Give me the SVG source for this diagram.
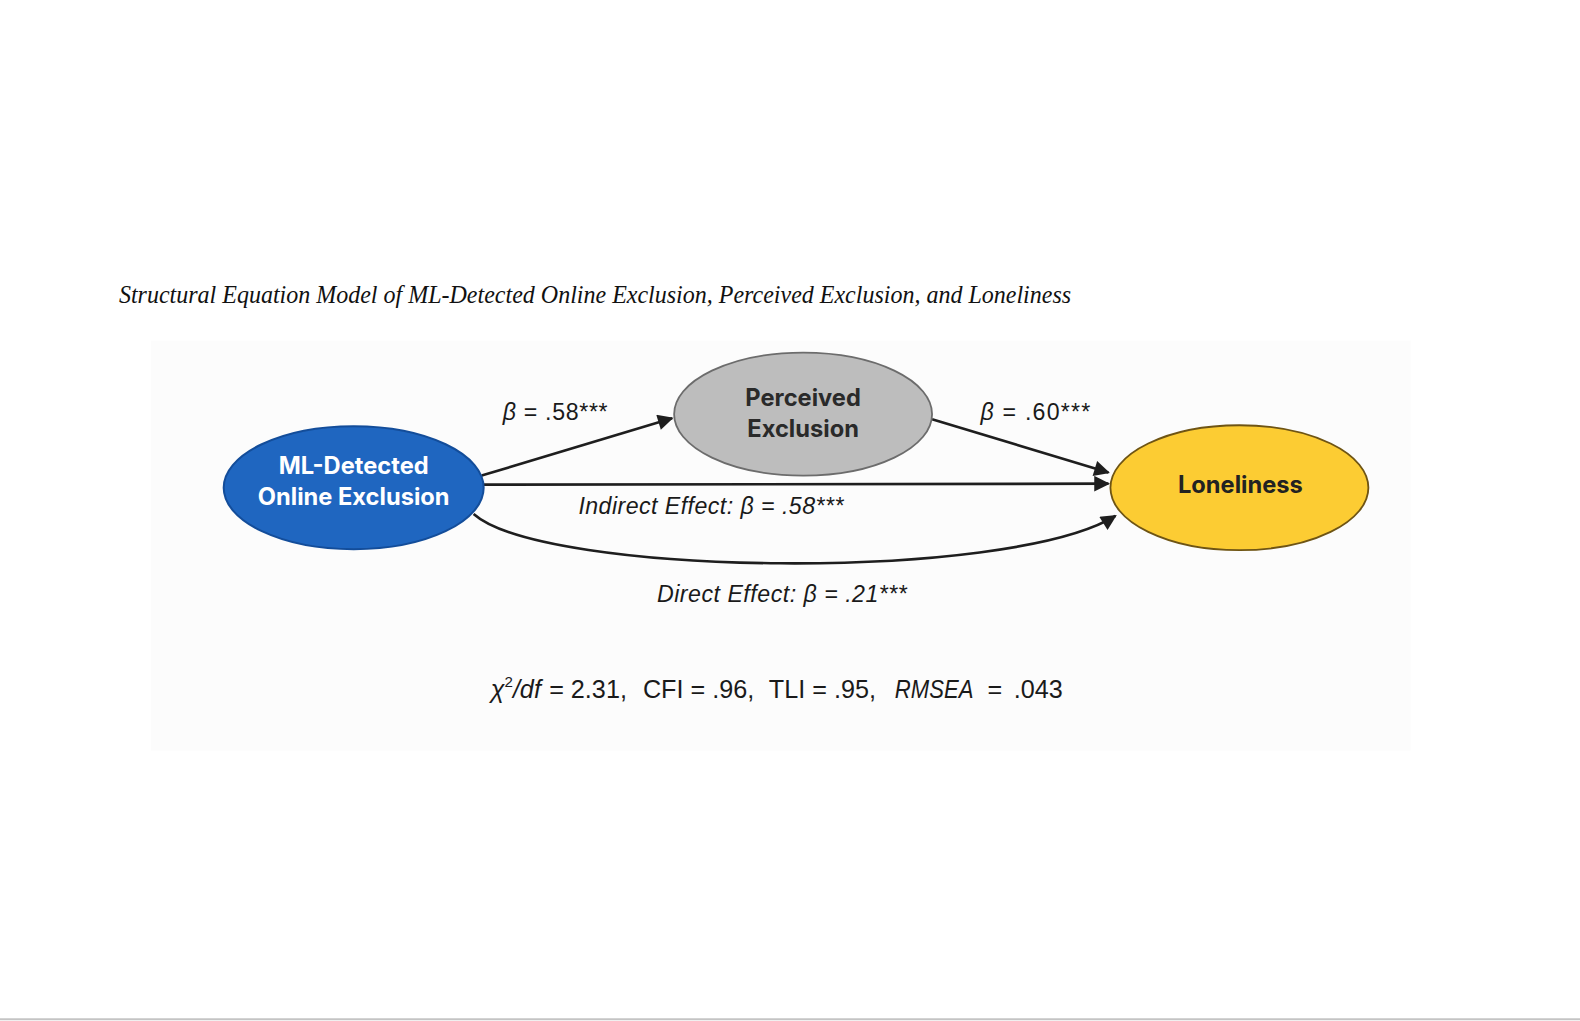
<svg xmlns="http://www.w3.org/2000/svg" width="1580" height="1021" viewBox="0 0 1580 1021">
<defs>
<style>
.lbl{font-family:"Liberation Sans",Arial,sans-serif;font-size:23px;fill:#1a1a1a}
.fit{font-family:"Liberation Sans",Arial,sans-serif;font-size:25px;fill:#1a1a1a}
.it{font-style:italic}
.node{font-family:Inter,"Open Sans",sans-serif;font-size:23.5px;font-weight:700;text-anchor:middle}
.conn{fill:none;stroke:#1e1e1e;stroke-width:2.6}
</style>
<marker id="ah" viewBox="0 0 10 10" refX="9" refY="5" markerWidth="7.2" markerHeight="6" markerUnits="strokeWidth" orient="auto">
<path d="M0,0 L10,5 L0,10 z" fill="#1e1e1e"/>
</marker>
</defs>
<rect x="0" y="0" width="1580" height="1021" fill="#ffffff"/>
<g transform="scale(1.00765)">
<rect x="150" y="338" width="1250" height="407" fill="#fcfcfc"/>
<line x1="0" y1="1011.5" x2="1580" y2="1011.5" stroke="#c4c4c4" stroke-width="2"/>
<text x="118" y="301" font-family="'Liberation Serif','Times New Roman',serif" font-style="italic" font-size="25" fill="#111" textLength="945" lengthAdjust="spacingAndGlyphs">Structural Equation Model of ML-Detected Online Exclusion, Perceived Exclusion, and Loneliness</text>
<g id="connectors">
<line class="conn" x1="478" y1="472" x2="667" y2="415" marker-end="url(#ah)"/>
<line class="conn" x1="925" y1="416" x2="1100" y2="469" marker-end="url(#ah)"/>
<line class="conn" x1="480" y1="481" x2="1100" y2="480" marker-end="url(#ah)"/>
<path class="conn" d="M470,510 C540,572 1000,578 1107,512" marker-end="url(#ah)"/>
</g>
<g id="node-ml">
<ellipse cx="351" cy="484" rx="129" ry="61" fill="#1f66c0" stroke="#134d9a" stroke-width="2"/>
<text class="node" x="351" y="470" fill="#ffffff">ML-Detected</text>
<text class="node" x="351" y="501" fill="#ffffff">Online Exclusion</text>
</g>
<g id="node-perceived">
<ellipse cx="797" cy="411" rx="128" ry="61" fill="#bdbdbd" stroke="#6c6c6c" stroke-width="1.8"/>
<text class="node" x="797" y="403" fill="#2a2a2a">Perceived</text>
<text class="node" x="797" y="434" fill="#2a2a2a">Exclusion</text>
</g>
<g id="node-loneliness">
<ellipse cx="1230" cy="484" rx="128" ry="62" fill="#fccc33" stroke="#6e5414" stroke-width="1.8"/>
<text class="node" x="1231" y="489" fill="#222222">Loneliness</text>
</g>
<g id="labels">
<text class="lbl" x="499" y="417" textLength="104"><tspan class="it">β</tspan> = .58***</text>
<text class="lbl" x="973" y="417" textLength="109"><tspan class="it">β</tspan> = .60***</text>
<text class="lbl it" x="574" y="510" textLength="263">Indirect Effect: β = .58***</text>
<text class="lbl it" x="652" y="597" textLength="248">Direct Effect: β = .21***</text>
<text class="fit" y="693"><tspan class="it" x="487">χ</tspan><tspan font-size="15" dy="-11">2</tspan><tspan class="it" dy="11">/df</tspan><tspan x="545">= 2.31,</tspan><tspan x="638">CFI = .96,</tspan><tspan x="763">TLI = .95,</tspan><tspan class="it" x="888" textLength="78" lengthAdjust="spacingAndGlyphs">RMSEA</tspan><tspan x="980">=</tspan><tspan x="1006">.043</tspan></text>
</g>
</g>
</svg>
